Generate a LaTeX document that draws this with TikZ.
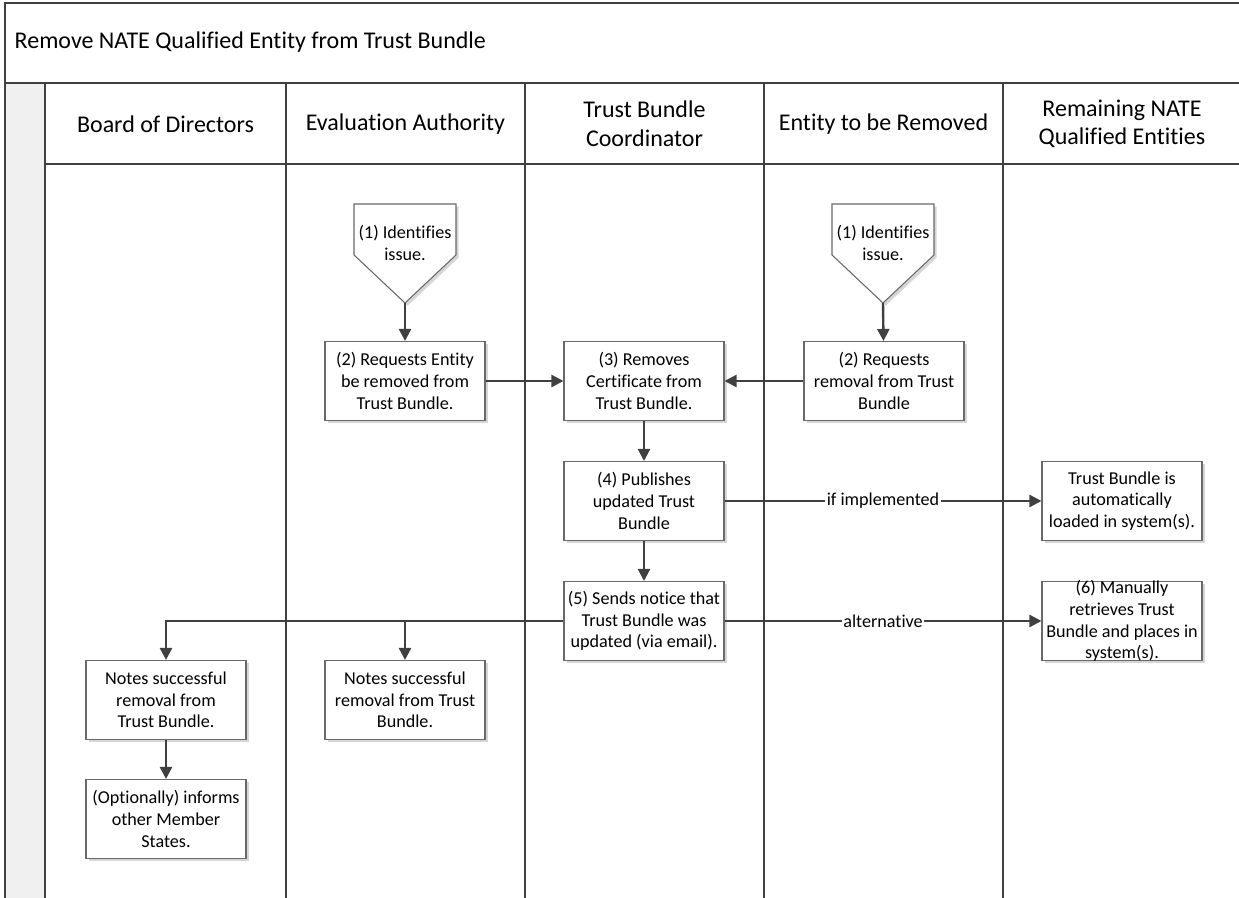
\documentclass[tikz,border=0pt]{standalone}
\usepackage{fontspec}
\setmainfont{Carlito}[Ligatures=CommonOff]
\usetikzlibrary{arrows.meta,shadows}

\definecolor{linegray}{RGB}{64,64,64}
\definecolor{boxgray}{RGB}{105,105,105}
\definecolor{stripgray}{RGB}{240,240,240}
\definecolor{shadowgray}{RGB}{214,214,214}

\newcommand{\boxfont}{\fontsize{13.6}{16.3}\selectfont}
\newcommand{\headfont}{\fontsize{18}{21.5}\selectfont}

\tikzset{
  lane/.style={draw=linegray, line width=1.1pt},
  stepbox/.style={draw=boxgray, fill=white, line width=0.8pt, minimum width=120pt,
    minimum height=59.25pt, inner sep=0pt, align=center, font=\boxfont,
    drop shadow={shadow xshift=2pt, shadow yshift=-2pt, fill=shadowgray, opacity=1}},
  offpage/.style={draw=boxgray, fill=white, line width=0.8pt,
    drop shadow={shadow xshift=2pt, shadow yshift=-2pt, fill=shadowgray, opacity=1}},
  flow/.style={draw=linegray, line width=1.8pt, -{Triangle[length=9pt, width=9pt]}},
  tag/.style={fill=white, inner sep=1pt, font=\boxfont}
}

\begin{document}
\begin{tikzpicture}[x=0.75pt, y=-0.75pt]
            \useasboundingbox (0,0) rectangle (1239,898);

            \fill[stripgray] (5,83) rectangle (45,905);
            \draw[lane] (5,3) rectangle (1250,905);
            \draw[lane] (5,83) -- (1250,83);
            \draw[lane] (45,164) -- (1250,164);
            \foreach \x in {45,286,525,764,1003}
                \draw[lane] (\x,83) -- (\x,905);

            \node (title) at (10,42) [anchor=west, font=\headfont] {Remove NATE Qualified Entity from Trust Bundle};
            \node (hbod) at (165.5,124) [align=center, font=\headfont] {Board of Directors};
            \node (hea) at (405.5,124) [align=center, font=\headfont] {Evaluation Authority};
            \node (htbc) at (644.5,124) [align=center, font=\headfont] {Trust Bundle\\Coordinator};
            \node (hent) at (883.5,124) [align=center, font=\headfont] {Entity to be Removed};
            \node (hrq) at (1122,124) [align=center, font=\headfont] {Remaining NATE\\Qualified Entities};

            \filldraw[offpage] (354,204) -- (456,204) -- (456,255) -- (405,303) -- (354,255) -- cycle;
            \filldraw[offpage] (832,204) -- (934,204) -- (934,255) -- (883,303) -- (832,255) -- cycle;
            \node (ea1) at (405,243) [align=center, font=\boxfont] {(1) Identifies\\issue.};
            \node (ent1) at (883,243) [align=center, font=\boxfont] {(1) Identifies\\issue.};
            \coordinate (ea1tip) at (405,303);
            \coordinate (ent1tip) at (883,303);

            \node (ea2) at (405,381) [stepbox] {(2) Requests Entity\\be removed from\\Trust Bundle.};
            \node (tbc3) at (644,381) [stepbox] {(3) Removes\\Certificate from\\Trust Bundle.};
            \node (ent2) at (884,381) [stepbox] {(2) Requests\\removal from Trust\\Bundle};
            \node (tbc4) at (644,501) [stepbox] {(4) Publishes\\updated Trust\\Bundle};
            \node (tbc5) at (644,621) [stepbox] {(5) Sends notice that\\Trust Bundle was\\updated (via email).};
            \node (rqauto) at (1122,501) [stepbox] {Trust Bundle is\\automatically\\loaded in system(s).};
            \node (rq6) at (1122,621) [stepbox] {};
            \node (rq6text) at (rq6) [align=center, font=\boxfont, inner sep=0pt] {(6) Manually\\retrieves Trust\\Bundle and places in\\system(s).};
            \node (bodnotes) at (166,700) [stepbox] {Notes successful\\removal from\\Trust Bundle.};
            \node (eanotes) at (405,700) [stepbox] {Notes successful\\removal from Trust\\Bundle.};
            \node (bodinform) at (166,819) [stepbox] {(Optionally) informs\\other Member\\States.};

            \draw[flow] (ea1tip) -- (ea2);
            \draw[flow] (ent1tip) -- (ent2);
            \draw[flow] (ea2) -- (tbc3);
            \draw[flow] (ent2) -- (tbc3);
            \draw[flow] (tbc3) -- (tbc4);
            \draw[flow] (tbc4) -- (tbc5);
            \draw[flow] (tbc4) -- node[tag] {if implemented} (rqauto);
            \draw[flow] (tbc5) -- node[tag] {alternative} (rq6);
            \draw[flow] (tbc5.west) -| (bodnotes.north);
            \draw[flow] (tbc5.west -| eanotes.north) -- (eanotes.north);
            \draw[flow] (bodnotes) -- (bodinform);
\end{tikzpicture}
\end{document}
